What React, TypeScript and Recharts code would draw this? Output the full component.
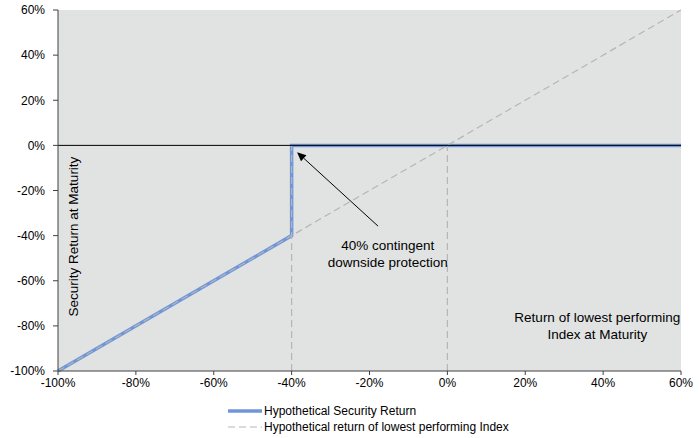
import React from "react"
import { CartesianGrid, Line, LineChart, ReferenceDot, ReferenceLine, XAxis, YAxis } from "recharts"

const xTicks = [-100, -80, -60, -40, -20, 0, 20, 40, 60]
const yTicks = [-100, -80, -60, -40, -20, 0, 20, 40, 60]

const securityReturn = [
  { x: -100, y: -100 },
  { x: -40, y: -40 },
  { x: -40, y: 0 },
  { x: 60, y: 0 },
]

const indexReturn = [
  { x: -100, y: -100 },
  { x: 60, y: 60 },
]

const barrierDrop = [
  { x: -40, y: -100 },
  { x: -40, y: 0 },
]

const zeroDrop = [
  { x: 0, y: -100 },
  { x: 0, y: 0 },
]

const arrow = [
  { x: -17.8, y: -35.8 },
  { x: -38.6, y: -3 },
]

const FONT = "'Liberation Sans', Arial, sans-serif"
const BLUE = "#7096d9"
const GRAY = "#b5b5b5"

const pct = (v: number) => `${v}%`

function Arrow(props: any) {
  const { x1, y1, x2, y2 } = props
  const a = Math.atan2(y2 - y1, x2 - x1)
  const len = 9
  const w = 4
  const bx = x2 - len * Math.cos(a)
  const by = y2 - len * Math.sin(a)
  const px = -Math.sin(a) * w
  const py = Math.cos(a) * w
  return (
    <g>
      <line x1={x1} y1={y1} x2={bx} y2={by} stroke="#000" strokeWidth={1} />
      <polygon points={`${x2},${y2} ${bx + px},${by + py} ${bx - px},${by - py}`} fill="#000" />
    </g>
  )
}

function TextLabel(value: string, angle = 0) {
  return (props: any) => {
    const { viewBox } = props
    const cx = viewBox.x + (viewBox.width || 0) / 2
    const cy = viewBox.y + (viewBox.height || 0) / 2
    return (
      <text
        x={cx}
        y={cy}
        textAnchor="middle"
        dominantBaseline="central"
        fontFamily={FONT}
        fontSize={13.5}
        fill="#000"
        transform={angle ? `rotate(${angle} ${cx} ${cy})` : undefined}
      >
        {value}
      </text>
    )
  }
}

export default function App() {
  return (
    <div style={{ position: "absolute", left: 0, top: 0, width: 699, height: 438, background: "#fff", fontFamily: FONT }}>
      <LineChart width={699} height={438} margin={{ top: 10, right: 18, left: 0, bottom: 0 }}>
        <CartesianGrid horizontal={false} vertical={false} fill="#e1e3e2" />
        <XAxis
          type="number"
          dataKey="x"
          domain={[-100, 60]}
          ticks={xTicks}
          tickFormatter={pct}
          height={67}
          axisLine={{ stroke: "#404040" }}
          tickLine={{ stroke: "#404040" }}
          tickSize={4}
          tickMargin={3}
          tick={{ fontFamily: FONT, fontSize: 12, fill: "#000" }}
          allowDuplicatedCategory={false}
        />
        <YAxis
          type="number"
          dataKey="y"
          domain={[-100, 60]}
          ticks={yTicks}
          tickFormatter={pct}
          width={58}
          axisLine={{ stroke: "#404040" }}
          tickLine={{ stroke: "#404040" }}
          tickSize={5}
          tickMargin={8}
          tick={{ fontFamily: FONT, fontSize: 12, fill: "#000" }}
        />
        <Line
          data={securityReturn}
          dataKey="y"
          stroke={BLUE}
          strokeWidth={3.5}
          dot={false}
          isAnimationActive={false}
          type="linear"
        />
        <Line
          data={indexReturn}
          dataKey="y"
          stroke={GRAY}
          strokeWidth={1.2}
          strokeDasharray="7 4"
          dot={false}
          isAnimationActive={false}
          type="linear"
        />
        <Line
          data={barrierDrop}
          dataKey="y"
          stroke={GRAY}
          strokeWidth={1.2}
          strokeDasharray="7 4"
          dot={false}
          isAnimationActive={false}
          type="linear"
        />
        <Line
          data={zeroDrop}
          dataKey="y"
          stroke={GRAY}
          strokeWidth={1.2}
          strokeDasharray="7 4"
          dot={false}
          isAnimationActive={false}
          type="linear"
        />
        <ReferenceLine y={0} stroke="#000" strokeWidth={1} />
        <ReferenceLine
          segment={[arrow[0], arrow[1]]}
          shape={(p: any) => <Arrow {...p} />}
        />
        <ReferenceDot x={-15.3} y={-44.2} r={0} fill="none" stroke="none" label={TextLabel("40% contingent")} />
        <ReferenceDot x={-15.3} y={-52.1} r={0} fill="none" stroke="none" label={TextLabel("downside protection")} />
        <ReferenceDot x={-96} y={-40.4} r={0} fill="none" stroke="none" label={TextLabel("Security Return at Maturity", -90)} />
        <ReferenceDot x={38.5} y={-76.5} r={0} fill="none" stroke="none" label={TextLabel("Return of lowest performing")} />
        <ReferenceDot x={38.5} y={-84} r={0} fill="none" stroke="none" label={TextLabel("Index at Maturity")} />
      </LineChart>
      <div style={{ position: "absolute", left: 228, top: 403, fontSize: 12, lineHeight: "16px", color: "#000" }}>
        <div style={{ display: "flex", alignItems: "center" }}>
          <svg width={36} height={16}>
            <line x1={0} y1={8} x2={34} y2={8} stroke={BLUE} strokeWidth={3.5} />
          </svg>
          <span>Hypothetical Security Return</span>
        </div>
        <div style={{ display: "flex", alignItems: "center" }}>
          <svg width={36} height={16}>
            <line x1={0} y1={8} x2={34} y2={8} stroke={GRAY} strokeWidth={1.2} strokeDasharray="7 4" />
          </svg>
          <span>Hypothetical return of lowest performing Index</span>
        </div>
      </div>
    </div>
  )
}
